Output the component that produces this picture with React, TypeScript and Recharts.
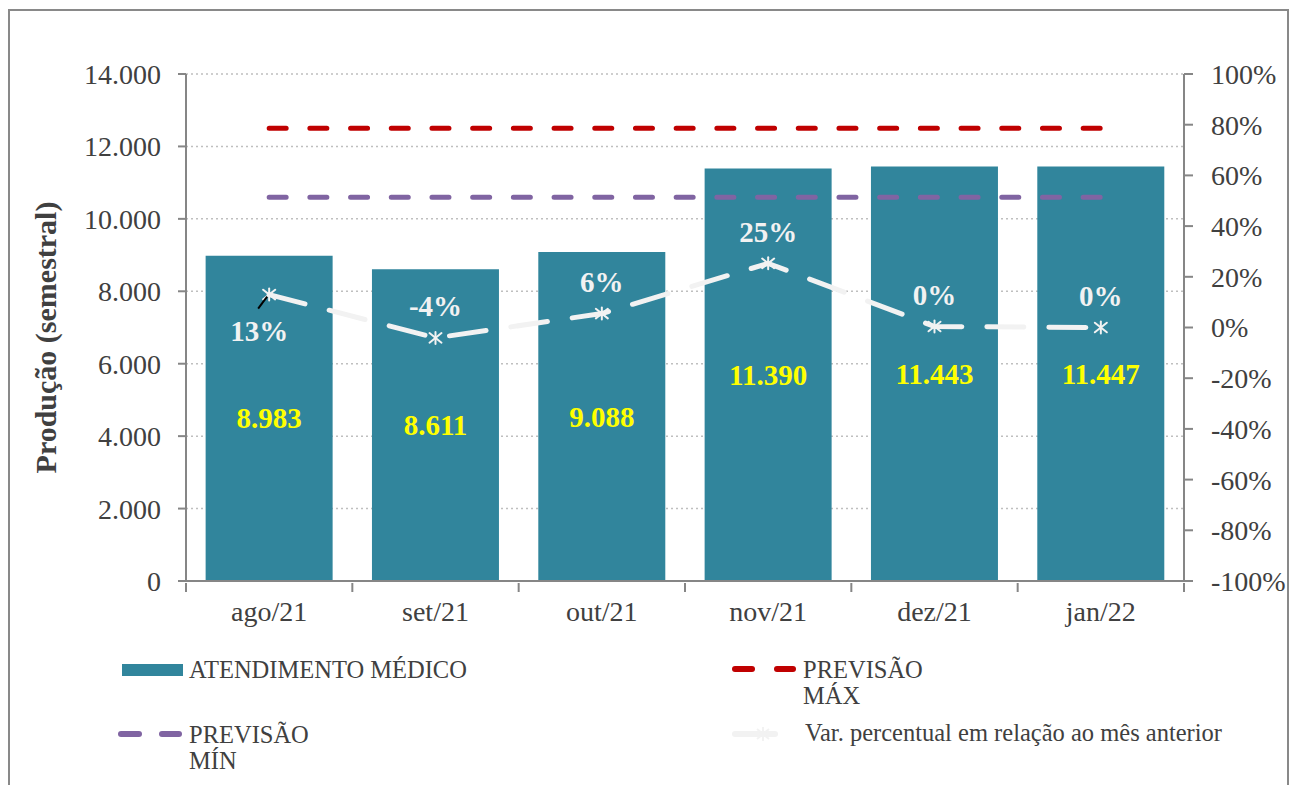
import React from 'react';
import { ComposedChart, Bar, Line, XAxis, YAxis, CartesianGrid, LabelList, Label } from 'recharts';

const FONT = '"Liberation Serif", "Times New Roman", serif';
const TEXT = '#404040';
const AXIS = '#868686';
const TEAL = '#31859C';
const RED = '#C00000';
const PURPLE = '#8064A2';
const LIGHT = '#F2F2F2';

const categories = ['ago/21', 'set/21', 'out/21', 'nov/21', 'dez/21', 'jan/22'];
const atendimento = [8983, 8611, 9088, 11390, 11443, 11447];
const previsaoMax = [12500, 12500, 12500, 12500, 12500, 12500];
const previsaoMin = [10600, 10600, 10600, 10600, 10600, 10600];
const variacao = [13, -4.1, 5.5, 25.3, 0.4, 0];
const leftTicks = [0, 2000, 4000, 6000, 8000, 10000, 12000, 14000];
const rightTicks = [-100, -80, -60, -40, -20, 0, 20, 40, 60, 80, 100];

const data = categories.map((cat, i) => ({
  cat,
  atend: atendimento[i],
  max: previsaoMax[i],
  min: previsaoMin[i],
  varp: variacao[i],
}));

function fmtThousands(v: number): string {
  return String(Math.round(v)).replace(/\B(?=(\d{3})+(?!\d))/g, '.');
}

const CategoryTick = (props: any) => {
  const { x, y, payload, index, width } = props;
  let half = payload && typeof payload.offset === 'number' && payload.offset > 0 ? payload.offset : 0;
  if (!half && typeof width === 'number') half = width / categories.length / 2;
  const last = index === categories.length - 1;
  return (
    <g>
      <line x1={x - half} y1={y} x2={x - half} y2={y + 9} stroke={AXIS} strokeWidth={2} />
      {last ? <line x1={x + half} y1={y} x2={x + half} y2={y + 9} stroke={AXIS} strokeWidth={2} /> : null}
      <text
        x={x}
        y={y + 18}
        dy="0.71em"
        textAnchor="middle"
        fill={TEXT}
        fontSize={28}
        fontFamily={FONT}
      >
        {payload ? payload.value : ''}
      </text>
    </g>
  );
};

const StarDot = (props: any) => {
  const { cx, cy, index } = props;
  if (cx == null || cy == null) return <g key={`d${index}`} />;
  const r = 6;
  return (
    <g key={`d${index}`} stroke={LIGHT} strokeWidth={2} strokeLinecap="round">
      <line x1={cx - r} y1={cy - r * 0.8} x2={cx + r} y2={cy + r * 0.8} />
      <line x1={cx - r} y1={cy + r * 0.8} x2={cx + r} y2={cy - r * 0.8} />
      <line x1={cx} y1={cy - r} x2={cx} y2={cy + r} />
    </g>
  );
};

const VarLabel = (props: any) => {
  const { x, y, value, index } = props;
  const n = Math.round(Number(value));
  const text = `${n === 0 ? 0 : n}%`;
  const common = {
    fill: LIGHT,
    fontSize: 29,
    fontWeight: 700,
    fontFamily: FONT,
    textAnchor: 'middle' as const,
  };
  if (index === 0) {
    return (
      <g>
        <line x1={x - 11} y1={y + 14} x2={x - 2} y2={y + 2} stroke="#000" strokeWidth={2} />
        <text x={x - 10} y={y + 36} dy="0.35em" {...common}>{text}</text>
      </g>
    );
  }
  return (
    <text x={x} y={y - 32} dy="0.35em" {...common}>{text}</text>
  );
};

const BarValueLabel = (props: any) => {
  const { x, y, width, height, value } = props;
  return (
    <text
      x={x + width / 2}
      y={y + height / 2}
      dy="0.35em"
      textAnchor="middle"
      fill="#FFFF00"
      fontSize={29}
      fontWeight={700}
      fontFamily={FONT}
    >
      {fmtThousands(Number(value))}
    </text>
  );
};

const YTitle = (props: any) => {
  const vb = props.viewBox || { x: 76, y: 63, width: 100, height: 507 };
  const cx = vb.x - 41;
  const cy = vb.y + vb.height / 2 + 10;
  return (
    <text
      x={cx}
      y={cy}
      transform={`rotate(-90, ${cx}, ${cy})`}
      textAnchor="middle"
      dy="0.35em"
      fill={TEXT}
      fontSize={30}
      fontWeight={700}
      fontFamily={FONT}
    >
      Produção (semestral)
    </text>
  );
};

const legendText: React.CSSProperties = {
  position: 'absolute',
  fontFamily: FONT,
  fontSize: 24.5,
  color: TEXT,
  lineHeight: '26px',
  whiteSpace: 'nowrap',
};

export default function App() {
  const tickStyle = { fill: TEXT, fontSize: 28, fontFamily: FONT };
  return (
    <div
      style={{
        position: 'fixed',
        left: 8,
        top: 9,
        width: 1277,
        height: 776,
        borderTop: '2px solid #898989',
        borderLeft: '2px solid #898989',
        borderRight: '2px solid #898989',
        background: '#fff',
      }}
    >
      <ComposedChart
        width={1277}
        height={774}
        data={data}
        margin={{ top: 63, right: 13, bottom: 164, left: 76 }}
        barCategoryGap="11.8%"
      >
        <CartesianGrid
          yAxisId="left"
          vertical={false}
          stroke="#BFBFBF"
          strokeDasharray="2 3"
          strokeWidth={1.5}
        />
        <XAxis
          dataKey="cat"
          height={40}
          interval={0}
          tick={<CategoryTick />}
          tickLine={false}
          tickSize={0}
          axisLine={{ stroke: AXIS, strokeWidth: 2 }}
        />
        <YAxis
          yAxisId="left"
          orientation="left"
          width={100}
          domain={[0, 14000]}
          ticks={leftTicks}
          interval={0}
          tickFormatter={fmtThousands}
          tick={tickStyle}
          tickSize={8}
          tickMargin={17}
          axisLine={{ stroke: AXIS, strokeWidth: 2 }}
          tickLine={{ stroke: AXIS, strokeWidth: 2 }}
        >
          <Label content={<YTitle />} />
        </YAxis>
        <YAxis
          yAxisId="right"
          orientation="right"
          width={90}
          domain={[-100, 100]}
          ticks={rightTicks}
          interval={0}
          tickFormatter={(v: number) => `${v}%`}
          tick={tickStyle}
          tickSize={9}
          tickMargin={18}
          axisLine={{ stroke: AXIS, strokeWidth: 2 }}
          tickLine={{ stroke: AXIS, strokeWidth: 2 }}
        />
        <Bar yAxisId="left" dataKey="atend" fill={TEAL} isAnimationActive={false}>
          <LabelList dataKey="atend" content={<BarValueLabel />} />
        </Bar>
        <Line
          yAxisId="left"
          dataKey="max"
          stroke={RED}
          strokeWidth={5}
          strokeDasharray="17 23.7"
          strokeLinecap="round"
          dot={false}
          activeDot={false}
          isAnimationActive={false}
        />
        <Line
          yAxisId="left"
          dataKey="min"
          stroke={PURPLE}
          strokeWidth={5}
          strokeDasharray="17 23.7"
          strokeLinecap="round"
          dot={false}
          activeDot={false}
          isAnimationActive={false}
        />
        <Line
          yAxisId="right"
          dataKey="varp"
          stroke={LIGHT}
          strokeWidth={5}
          strokeDasharray="37 25"
          strokeLinecap="round"
          dot={<StarDot />}
          activeDot={false}
          isAnimationActive={false}
        >
          <LabelList dataKey="varp" content={<VarLabel />} />
        </Line>
      </ComposedChart>

      <svg
        width={1277}
        height={774}
        style={{ position: 'absolute', left: 0, top: 0, pointerEvents: 'none' }}
      >
        <rect x={112} y={653} width={61} height={12} fill={TEAL} />
        <g stroke={RED} strokeWidth={6} strokeLinecap="round">
          <line x1={725} y1={658} x2={742} y2={658} />
          <line x1={767} y1={658} x2={783} y2={658} />
        </g>
        <g stroke={PURPLE} strokeWidth={6} strokeLinecap="round">
          <line x1={111} y1={723} x2={129} y2={723} />
          <line x1={152} y1={723} x2={169} y2={723} />
        </g>
        <line x1={725} y1={723} x2={765} y2={723} stroke={LIGHT} strokeWidth={6} strokeLinecap="round" />
        <g stroke={LIGHT} strokeWidth={2}>
          <line x1={747} y1={718} x2={759} y2={728} />
          <line x1={747} y1={728} x2={759} y2={718} />
          <line x1={753} y1={716} x2={753} y2={730} />
        </g>
      </svg>

      <div style={{ ...legendText, left: 179, top: 646 }}>ATENDIMENTO MÉDICO</div>
      <div style={{ ...legendText, left: 793, top: 646 }}>PREVISÃO<br />MÁX</div>
      <div style={{ ...legendText, left: 179, top: 711 }}>PREVISÃO<br />MÍN</div>
      <div style={{ ...legendText, left: 795, top: 709 }}>Var. percentual em relação ao mês anterior</div>
    </div>
  );
}
